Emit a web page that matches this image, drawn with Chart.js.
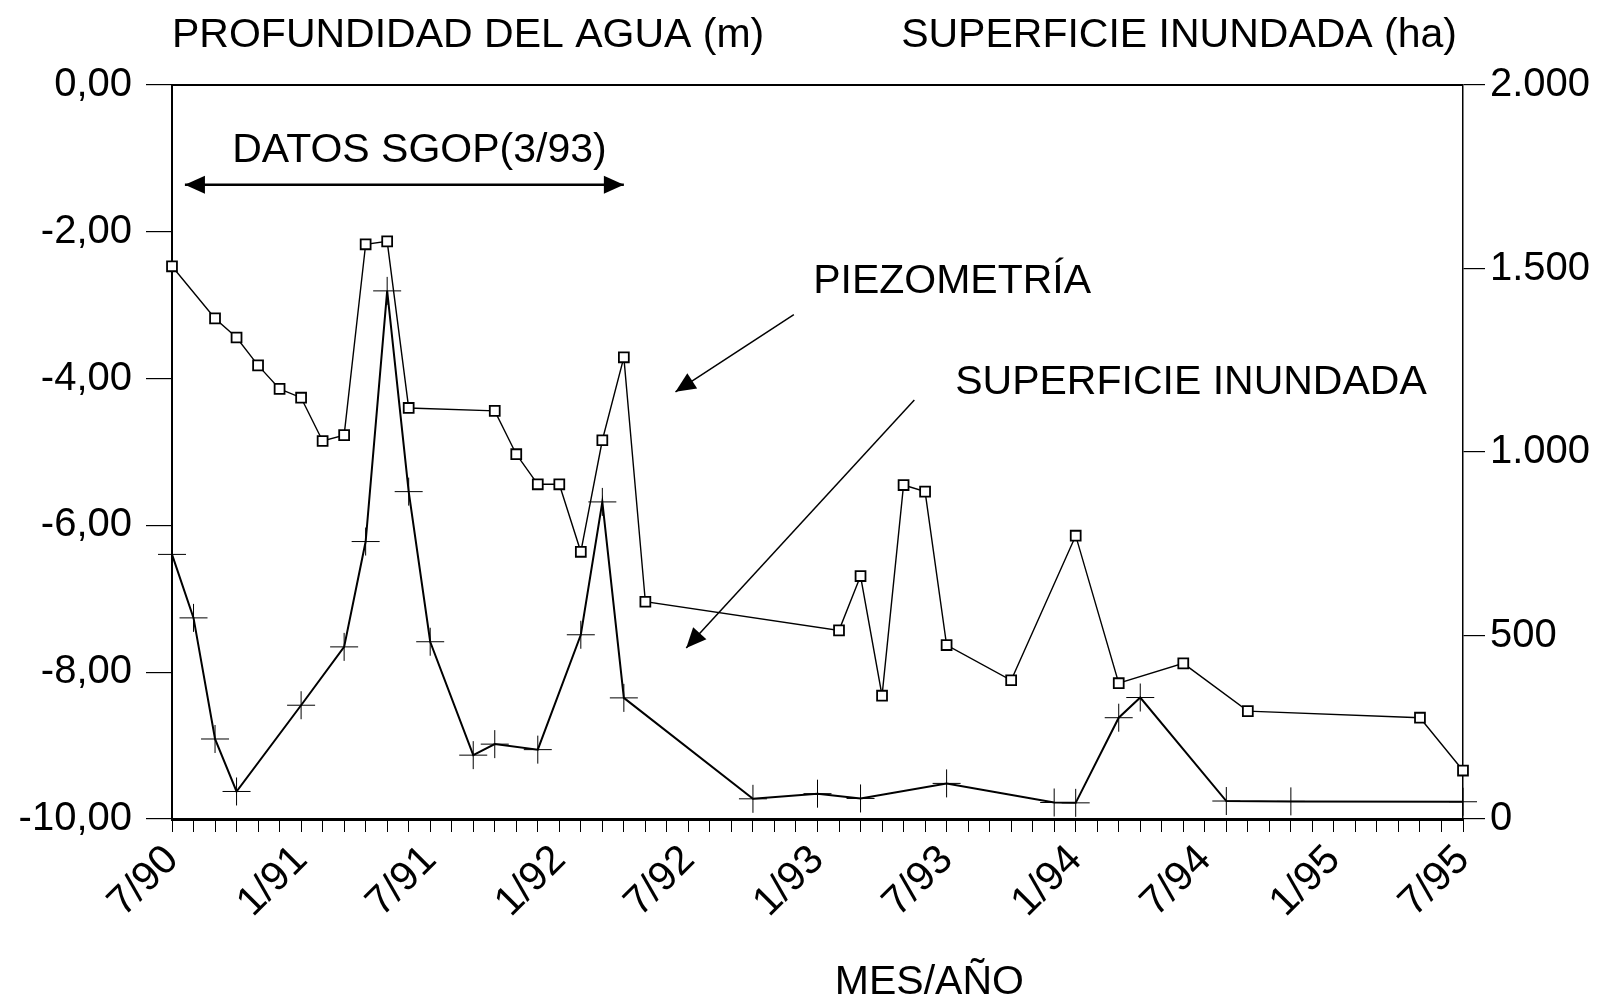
<!DOCTYPE html>
<html>
<head>
<meta charset="utf-8">
<script src="https://cdn.jsdelivr.net/npm/chart.js@4.4.1/dist/chart.umd.min.js"></script>
<style>
  html, body { margin: 0; padding: 0; background: #fff; }
  #wrap { width: 1611px; height: 999px; }
</style>
</head>
<body>
<div id="wrap"><canvas id="chart" width="1611" height="999"></canvas></div>
<script>
// months counted from 7/90 (0) to 7/95 (60)
const monthLabels = ['7/90', '1/91', '7/91', '1/92', '7/92', '1/93', '7/93', '1/94', '7/94', '1/95', '7/95']

// water depth (m)
const piezoMonths = [0, 2, 3, 4, 5, 6, 7, 8, 9, 10, 11, 15, 16, 17, 18, 19, 20, 21, 22, 31, 32, 33, 34, 35, 36, 39, 42, 44, 47, 50, 58, 60]
const piezoDepth = [-2.47, -3.18, -3.44, -3.82, -4.14, -4.26, -4.85, -4.77, -2.17, -2.13, -4.40, -4.44, -5.03, -5.44, -5.44, -6.36, -4.84, -3.71, -7.04, -7.43, -6.69, -8.32, -5.45, -5.54, -7.63, -8.11, -6.14, -8.15, -7.88, -8.53, -8.62, -9.34]

// flooded surface (ha)
const floodMonths = [0, 1, 2, 3, 6, 8, 9, 10, 11, 12, 14, 15, 17, 19, 20, 21, 27, 30, 32, 36, 41, 42, 44, 45, 49, 52, 60]
const floodArea = [721, 548, 218, 75, 310, 469, 756, 1439, 892, 483, 174, 204, 189, 502, 864, 330, 55, 69, 56, 97, 45, 44, 276, 331, 49, 48, 47]

const FONT = '"Liberation Sans", Arial, sans-serif'

function arrowHead (ctx, x1, y1, x2, y2, len, half) {
  const a = Math.atan2(y2 - y1, x2 - x1)
  ctx.beginPath()
  ctx.moveTo(x2, y2)
  ctx.lineTo(x2 - len * Math.cos(a) + half * Math.sin(a), y2 - len * Math.sin(a) - half * Math.cos(a))
  ctx.lineTo(x2 - len * Math.cos(a) - half * Math.sin(a), y2 - len * Math.sin(a) + half * Math.cos(a))
  ctx.closePath()
  ctx.fill()
}

function arrow (ctx, x1, y1, x2, y2, both) {
  ctx.beginPath()
  ctx.moveTo(x1, y1)
  ctx.lineTo(x2, y2)
  ctx.stroke()
  arrowHead(ctx, x1, y1, x2, y2, 20, 9)
  if (both) arrowHead(ctx, x2, y2, x1, y1, 20, 9)
}

// frame top, titles and notes
const notes = {
  id: 'notes',
  afterDraw (chart) {
    const { ctx, chartArea, scales } = chart
    const px = m => scales.x.getPixelForValue(m)
    const py = d => scales.y.getPixelForValue(d)
    ctx.save()
    ctx.strokeStyle = '#000'
    ctx.fillStyle = '#000'
    ctx.lineWidth = 2
    ctx.beginPath()
    ctx.moveTo(chartArea.left, chartArea.top)
    ctx.lineTo(chartArea.right, chartArea.top)
    ctx.stroke()

    ctx.font = '41px ' + FONT
    ctx.textBaseline = 'middle'
    ctx.textAlign = 'left'
    ctx.fillText('PROFUNDIDAD DEL AGUA (m)', chartArea.left, chartArea.top - 49)
    ctx.textAlign = 'right'
    ctx.fillText('SUPERFICIE INUNDADA (ha)', chartArea.right - 6, chartArea.top - 49)

    ctx.textAlign = 'center'
    ctx.fillText('DATOS SGOP(3/93)', px(11.5), py(-0.9))
    ctx.fillText('MES/AÑO', px(35.2), chartArea.bottom + 164)
    ctx.textAlign = 'left'
    ctx.fillText('PIEZOMETRÍA', px(29.8), py(-2.68))
    ctx.fillText('SUPERFICIE INUNDADA', px(36.4), py(-4.05))

    ctx.lineWidth = 2.5
    arrow(ctx, px(0.6), py(-1.36), px(21.0), py(-1.36), true)
    ctx.lineWidth = 1.5
    arrow(ctx, px(28.9), py(-3.13), px(23.4), py(-4.18))
    arrow(ctx, px(34.5), py(-4.29), px(23.9), py(-7.67))
    ctx.restore()
  }
}

new Chart(document.getElementById('chart'), {
  type: 'line',
  data: {
    datasets: [
      {
        label: 'PIEZOMETRÍA',
        data: piezoMonths.map((m, i) => ({ x: m, y: piezoDepth[i] })),
        yAxisID: 'y',
        borderColor: '#000',
        borderWidth: 1.4,
        pointStyle: 'rect',
        pointRadius: 7,
        pointBackgroundColor: '#fff',
        pointBorderColor: '#000',
        pointBorderWidth: 1.8,
        clip: false
      },
      {
        label: 'SUPERFICIE INUNDADA',
        data: floodMonths.map((m, i) => ({ x: m, y: floodArea[i] })),
        yAxisID: 'y2',
        borderColor: '#000',
        borderWidth: 2,
        pointStyle: 'cross',
        pointRadius: 14,
        pointBorderColor: '#000',
        pointBorderWidth: 1,
        clip: false
      }
    ]
  },
  options: {
    responsive: false,
    animation: false,
    layout: { padding: { top: 85, left: 0, right: 0, bottom: 0 } },
    plugins: {
      legend: { display: false },
      tooltip: { enabled: false }
    },
    scales: {
      x: {
        type: 'linear',
        position: 'bottom',
        min: 0,
        max: 60,
        afterFit: s => { s.height = 180 },
        ticks: {
          stepSize: 1,
          autoSkip: false,
          minRotation: 45,
          maxRotation: 45,
          padding: 4,
          color: '#000',
          font: { family: FONT, size: 41 },
          callback: v => (v % 6 === 0 ? monthLabels[v / 6] : '')
        },
        grid: { drawOnChartArea: false, tickLength: 13, color: '#000', lineWidth: 1 },
        border: { color: '#000', width: 3 }
      },
      y: {
        position: 'left',
        min: -10,
        max: 0,
        afterFit: s => { s.width = 172 },
        ticks: {
          stepSize: 2,
          padding: 14,
          color: '#000',
          font: { family: FONT, size: 40 },
          callback: v => v.toFixed(2).replace('.', ',')
        },
        grid: { drawOnChartArea: false, tickLength: 26, color: '#000', lineWidth: 1.2 },
        border: { color: '#000', width: 2 }
      },
      y2: {
        position: 'right',
        min: 0,
        max: 2000,
        afterFit: s => { s.width = 148 },
        ticks: {
          stepSize: 500,
          padding: 5,
          color: '#000',
          font: { family: FONT, size: 40 },
          callback: v => (v >= 1000 ? Math.floor(v / 1000) + '.' + String(v % 1000).padStart(3, '0') : String(v))
        },
        grid: { drawOnChartArea: false, tickLength: 22, color: '#000', lineWidth: 1.2 },
        border: { color: '#000', width: 1.5 }
      }
    }
  },
  plugins: [notes]
})
</script>
</body>
</html>
